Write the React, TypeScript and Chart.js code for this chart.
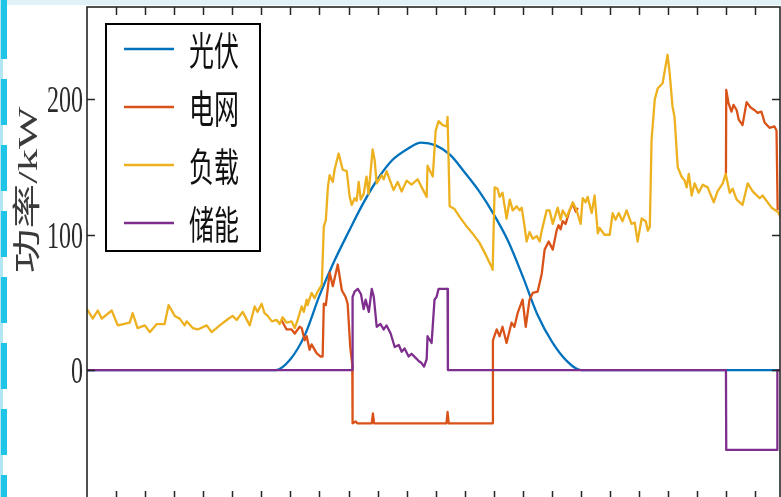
import React, { useEffect, useRef } from "react";
import { Chart, registerables } from "chart.js";

Chart.register(...registerables);

// ---------- data (hours of day, kW) ----------
const seriesNames = ["光伏", "电网", "负载", "储能"];
const seriesColors = ["#0072BD", "#D95319", "#EDB120", "#7E2F8E"];
const yAxisTitle = "功率/kW";
const yTickValues = [0, 100, 200];
const yTickLabels = ["0", "100", "200"];
const xTickHours = [1, 2, 3, 4, 5, 6, 7, 8, 9, 10, 11, 12, 13, 14, 15, 16, 17, 18, 19, 20, 21, 22, 23];

const pvHours = [0, 6.5, 7, 7.5, 8, 8.5, 9, 9.5, 10, 10.5, 11, 11.5, 12, 12.5, 13, 13.5, 14, 14.5, 15, 15.5, 16, 16.5, 17, 24];
const pvKw = [0, 0, 8, 26, 55, 80, 102, 123, 141, 155, 163, 168, 166, 159, 146, 132, 115, 95, 69, 41, 21, 7, 0, 0];

const loadHours = [
  0, 0.2, 0.37, 0.51, 0.85, 1.06, 1.47, 1.57, 1.74, 1.99, 2.16, 2.4, 2.67, 2.81, 3.02, 3.19, 3.36, 3.43, 3.64, 3.81,
  4.12, 4.29, 4.57, 4.81, 5.01, 5.15, 5.36, 5.6, 5.77, 5.87, 6.01, 6.11, 6.22, 6.36, 6.53, 6.63, 6.73, 6.87, 7.04, 7.15,
  7.25, 7.39, 7.46, 7.56, 7.59, 7.73, 7.83, 7.94, 8.08, 8.15, 8.22, 8.29, 8.35, 8.46, 8.52, 8.66, 8.8, 8.94, 9.04, 9.11,
  9.21, 9.28, 9.35, 9.42, 9.52, 9.62, 9.69, 9.83, 9.9, 9.97, 10.14, 10.21, 10.31, 10.55, 10.69, 10.83, 11.0, 11.17, 11.38, 11.52,
  11.69, 11.72, 11.9, 12.0, 12.1, 12.24, 12.38, 12.41, 12.48, 12.65, 12.83, 13.07, 13.27, 13.51, 13.75, 13.93, 13.96, 14.03, 14.13, 14.2,
  14.3, 14.44, 14.55, 14.65, 14.79, 14.89, 14.96, 15.06, 15.13, 15.23, 15.34, 15.48, 15.58, 15.65, 15.82, 15.92, 16.03, 16.2, 16.3, 16.37,
  16.51, 16.72, 16.85, 16.99, 17.06, 17.16, 17.23, 17.37, 17.47, 17.58, 17.64, 17.81, 17.99, 18.09, 18.19, 18.3, 18.43, 18.57, 18.74, 18.85,
  18.95, 19.09, 19.23, 19.3, 19.37, 19.43, 19.54, 19.64, 19.81, 19.98, 20.05, 20.15, 20.22, 20.33, 20.46, 20.57, 20.64, 20.71, 20.81, 20.91,
  21.05, 21.19, 21.36, 21.57, 21.7, 21.88, 21.98, 22.12, 22.22, 22.36, 22.56, 22.74, 22.91, 23.15, 23.25, 23.56, 23.77, 23.87,
];
const loadKw = [
  45, 38, 44, 38, 44, 33, 35, 42, 31, 33, 28, 34, 34, 48, 40, 38, 33, 36, 31, 30,
  33, 28, 33, 37, 40, 37, 43, 33, 47, 43, 49, 42, 40, 36, 37, 34, 39, 35, 36, 31,
  37, 47, 43, 52, 48, 57, 53, 58, 63, 106, 111, 135, 144, 139, 148, 160, 148, 147, 128, 122,
  127, 125, 139, 126, 130, 143, 130, 163, 155, 138, 144, 141, 147, 133, 139, 132, 140, 137, 141, 135,
  128, 151, 143, 177, 184, 181, 180, 187, 121, 119, 113, 106, 101, 94, 84, 76, 74, 135, 134, 128,
  131, 112, 126, 118, 121, 118, 120, 106, 95, 102, 97, 99, 95, 103, 118, 118, 108, 120, 111, 118,
  113, 124, 118, 108, 127, 124, 128, 116, 129, 101, 105, 100, 100, 116, 111, 116, 110, 118, 108, 109,
  95, 112, 110, 103, 106, 170, 200, 208, 212, 233, 220, 195, 187, 150, 143, 140, 135, 145, 129, 138,
  131, 137, 135, 124, 132, 138, 145, 131, 134, 126, 122, 138, 132, 127, 129, 120, 117, 113,
];

// grid import (null = gap, where the grid trace lies under the load trace)
const gridHours = [
  6.69, 6.87, 7.04, 7.15, 7.32, 7.39, 7.49, 7.56, 7.66, 7.73, 7.9, 8.04, 8.11, 8.15, 8.22, 8.35, 8.46, 8.63, 8.77, 8.9,
  8.97, 9.06, 9.13, 9.14, 9.25, 9.3, 9.8, 9.84, 9.88, 12.37, 12.41, 12.45, 13.96, 13.97, 14.1, 14.2, 14.3, 14.44, 14.61, 14.71,
  14.82, 14.99, 15.1, 15.23, 15.34, 15.51, 15.65, 15.75, 15.89, 16.03, 16.16, 16.23, 16.3, 16.37, 16.47, 16.61, 16.72, 16.82, 16.89, 19.0,
  21.99, 22.0, 22.08, 22.18, 22.25, 22.36, 22.43, 22.56, 22.7, 22.84, 22.98, 23.08, 23.21, 23.32, 23.49, 23.66, 23.73, 23.77,
];
const gridKw = [
  37, 30, 30, 27, 32, 31, 22, 25, 15, 19, 12.5, 10, 10, 49, 48, 72, 62, 78, 59, 54,
  49, 17, 4, -39.4, -38, -39.4, -39.4, -32, -39.4, -39.4, -31, -39.4, -39.4, 22, 30, 25, 32, 20, 35, 32,
  42, 52, 32, 52, 57, 58, 71, 89, 95, 89, 103, 107, 104, 110, 108, 118, 123, 117, 120, null,
  145, 207, 197, 191, 196, 192, 185, 181, 198, 194, 192, 190, 191, 183, 179, 180, 177, 118,
];

const storageHours = [
  0, 9.13, 9.14, 9.21, 9.32, 9.43, 9.52, 9.59, 9.7, 9.8, 9.87, 9.97, 10.1, 10.21, 10.31, 10.45, 10.59, 10.73, 10.83, 10.93,
  11.07, 11.17, 11.31, 11.4, 11.52, 11.6, 11.69, 11.72, 11.86, 11.96, 12.03, 12.1, 12.41, 12.42, 21.99, 22.0, 23.75, 23.76, 24,
];
const storageKw = [
  0, 0, 54, 58, 60, 56, 45, 52, 43, 60, 54, 32, 34, 30, 33, 27, 17, 18.5, 13.5, 16,
  10, 12, 9, 7, 5, 2.5, 8, 25, 20, 52, 54, 60, 60, 0, 0, -59, -59, 0, 0,
];

const toPoints = (hs: number[], vs: (number | null)[]) => hs.map((h, i) => ({ x: h, y: vs[i] }));

const TEXT_STRETCH = 1.55;

const decorPlugin = {
  id: "matlabDecor",
  afterDraw(chart: any) {
    const { ctx, chartArea: a, scales } = chart;
    const xs = scales.x;
    const ys = scales.y;
    ctx.save();

    // axes box
    ctx.strokeStyle = "#262626";
    ctx.lineWidth = 1.6;
    ctx.strokeRect(a.left, a.top, a.right - a.left, a.bottom - a.top);

    // inward ticks
    ctx.lineWidth = 1.5;
    const tl = 8;
    ctx.beginPath();
    xTickHours.forEach((h) => {
      const px = Math.round(xs.getPixelForValue(h)) + 0.5;
      ctx.moveTo(px, a.top);
      ctx.lineTo(px, a.top + tl);
      ctx.moveTo(px, a.bottom);
      ctx.lineTo(px, a.bottom - tl);
    });
    yTickValues.forEach((v) => {
      const py = Math.round(ys.getPixelForValue(v)) + 0.5;
      ctx.moveTo(a.left, py);
      ctx.lineTo(a.left + tl, py);
      ctx.moveTo(a.right, py);
      ctx.lineTo(a.right - tl, py);
    });
    ctx.stroke();

    // y tick labels
    ctx.fillStyle = "#2a2a2a";
    ctx.font = '24px "Liberation Serif", "Times New Roman", serif';
    ctx.textAlign = "right";
    ctx.textBaseline = "middle";
    yTickValues.forEach((v, i) => {
      const py = ys.getPixelForValue(v);
      ctx.save();
      ctx.translate(a.left - 4, py + 3);
      ctx.scale(1, 1.6);
      ctx.fillText(yTickLabels[i], 0, 0);
      ctx.restore();
    });

    // y axis title
    ctx.save();
    ctx.fillStyle = "#3a3a3a";
    ctx.font = '28px "Liberation Serif", "Noto Sans CJK SC", serif';
    ctx.textAlign = "center";
    ctx.textBaseline = "middle";
    ctx.translate(30, 190);
    ctx.scale(1, 1.6);
    ctx.rotate(-Math.PI / 2);
    ctx.fillText(yAxisTitle, 0, 0);
    ctx.restore();

    // legend box
    const lx = 106, ly = 24, lw = 154, lh = 227;
    ctx.fillStyle = "#ffffff";
    ctx.fillRect(lx, ly, lw, lh);
    ctx.strokeStyle = "#000000";
    ctx.lineWidth = 2;
    ctx.strokeRect(lx, ly, lw, lh);
    const rows = [49, 107, 165, 223];
    seriesNames.forEach((name, i) => {
      ctx.strokeStyle = seriesColors[i];
      ctx.lineWidth = 2.5;
      ctx.beginPath();
      ctx.moveTo(124, rows[i]);
      ctx.lineTo(174, rows[i]);
      ctx.stroke();
      ctx.save();
      ctx.fillStyle = "#111111";
      ctx.font = '25px "Noto Sans CJK SC", sans-serif';
      ctx.textAlign = "left";
      ctx.textBaseline = "middle";
      ctx.translate(189, rows[i] + 1);
      ctx.scale(1, TEXT_STRETCH);
      ctx.fillText(name, 0, 0);
      ctx.restore();
    });

    ctx.restore();
  },
};

export default function App() {
  const canvasRef = useRef<HTMLCanvasElement | null>(null);

  useEffect(() => {
    if (!canvasRef.current) return;
    const chart = new Chart(canvasRef.current, {
      type: "line",
      data: {
        datasets: [
          { label: seriesNames[0], data: toPoints(pvHours, pvKw), borderColor: seriesColors[0], order: 4, cubicInterpolationMode: "monotone" },
          { label: seriesNames[1], data: toPoints(gridHours, gridKw), borderColor: seriesColors[1], order: 3 },
          { label: seriesNames[2], data: toPoints(loadHours, loadKw), borderColor: seriesColors[2], order: 2 },
          { label: seriesNames[3], data: toPoints(storageHours, storageKw), borderColor: seriesColors[3], order: 1 },
        ] as any,
      },
      options: {
        responsive: false,
        maintainAspectRatio: false,
        animation: false,
        parsing: false as any,
        layout: { padding: { top: 7, right: 1, bottom: 6, left: 0 } },
        elements: {
          point: { radius: 0, hoverRadius: 0 },
          line: { borderWidth: 2.3, tension: 0, borderJoinStyle: "round", borderCapStyle: "butt" },
        },
        plugins: { legend: { display: false }, tooltip: { enabled: false } },
        events: [],
        scales: {
          x: {
            type: "linear",
            min: 0,
            max: 23.85,
            ticks: { display: false },
            grid: { display: false },
            border: { display: false },
            afterFit: (s: any) => { s.height = 0; },
          },
          y: {
            type: "linear",
            min: -95.3,
            max: 268.3,
            ticks: { display: false },
            grid: { display: false },
            border: { display: false },
            afterFit: (s: any) => { s.width = 87; },
          },
        },
      } as any,
      plugins: [decorPlugin],
    });
    return () => chart.destroy();
  }, []);

  return (
    <div style={{ position: "fixed", left: 0, top: 0, width: 781, height: 497, overflow: "hidden", background: "#ffffff" }}>
      <canvas ref={canvasRef} width={781} height={505} style={{ position: "absolute", left: 0, top: 0, width: 781, height: 505 }} />
      <div style={{ position: "absolute", left: 0, top: 0, width: 781, height: 5, background: "#e0f1f8" }} />
      <div style={{ position: "absolute", left: 0, top: 0, width: 3, height: 497, background: "#b3e6f3" }} />
      <div
        style={{
          position: "absolute",
          left: 1,
          top: 0,
          width: 6,
          height: 497,
          backgroundImage: "repeating-linear-gradient(to bottom, #1ec5e6 0px, #1ec5e6 46px, transparent 46px, transparent 66px)",
          backgroundPosition: "0px 13px",
        }}
      />
    </div>
  );
}
